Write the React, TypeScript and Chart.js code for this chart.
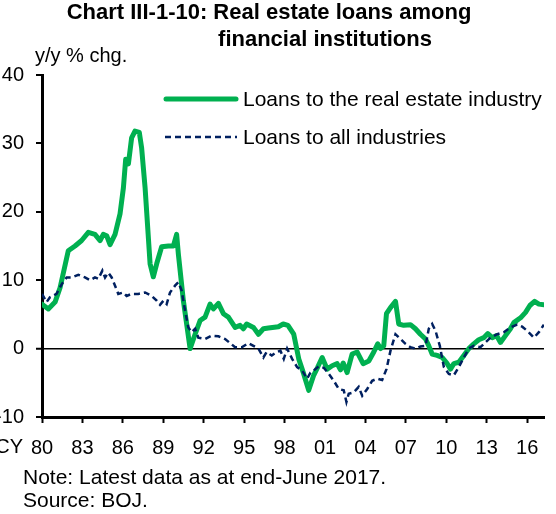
import React, { useEffect, useRef } from "react";
import { Chart, registerables } from "chart.js";

Chart.register(...registerables);

const reYears = [
  1980.0, 1980.47, 1980.97, 1981.34, 1981.95, 1982.45, 1982.94, 1983.44, 1983.93, 1984.31,
  1984.55, 1984.8, 1985.05, 1985.42, 1985.79, 1986.04, 1986.21, 1986.41, 1986.65, 1986.9,
  1987.22, 1987.39, 1987.65, 1988.02, 1988.26, 1988.51, 1988.88, 1989.38, 1989.75, 1989.99,
  1990.12, 1990.49, 1990.99, 1991.36, 1991.73, 1992.1, 1992.47, 1992.72, 1993.09, 1993.46,
  1993.83, 1994.33, 1994.7, 1994.94, 1995.19, 1995.69, 1996.06, 1996.43, 1996.8, 1997.54,
  1997.9, 1998.25, 1998.68, 1999.05, 1999.42, 1999.79, 2000.16, 2000.46, 2000.79, 2001.16,
  2001.53, 2001.9, 2002.15, 2002.35, 2002.64, 2003.01, 2003.39, 2003.83, 2004.25, 2004.62,
  2004.91, 2005.12, 2005.36, 2005.56, 2005.86, 2006.23, 2006.47, 2006.84, 2007.34, 2007.71,
  2008.08, 2008.46, 2008.7, 2008.95, 2009.32, 2009.7, 2010.07, 2010.31, 2010.56, 2010.93,
  2011.3, 2011.67, 2012.04, 2012.41, 2012.78, 2013.08, 2013.41, 2013.73, 2014.02, 2014.39,
  2014.76, 2015.01, 2015.51, 2015.88, 2016.2, 2016.55, 2016.87, 2017.25,
];
const reValues = [
  6.5, 5.8, 6.8, 8.9, 14.3, 15.0, 15.8, 17.0, 16.7, 15.8,
  16.7, 16.5, 15.2, 16.7, 19.7, 23.5, 27.7, 27.0, 30.8, 31.8,
  31.6, 29.4, 23.5, 12.4, 10.5, 12.4, 14.9, 15.0, 15.0, 16.7,
  13.8, 7.0, 0.0, 2.1, 4.1, 4.6, 6.5, 5.8, 6.6, 5.1,
  4.6, 3.1, 3.4, 2.9, 3.6, 3.1, 2.1, 2.9, 3.0, 3.2,
  3.6, 3.4, 2.1, -1.5, -3.7, -6.1, -3.9, -2.7, -1.3, -3.0,
  -2.5, -2.2, -3.1, -2.1, -3.5, -0.8, -0.5, -2.2, -1.8, -0.5,
  0.7, 0.0, 0.4, 5.1, 6.0, 6.9, 3.6, 3.4, 3.5, 2.9,
  2.1, 1.4, 0.4, -0.8, -1.0, -1.3, -2.2, -3.0, -2.2, -2.0,
  -1.0, 0.0, 0.7, 1.3, 1.6, 2.2, 1.6, 1.9, 0.9, 1.9,
  2.9, 3.8, 4.5, 5.3, 6.3, 6.9, 6.5, 6.4,
];

const allYears = [
  1980.0, 1980.34, 1980.59, 1981.08, 1981.46, 1981.83, 1982.2, 1982.69, 1983.19, 1983.56,
  1983.93, 1984.18, 1984.48, 1984.68, 1984.92, 1985.17, 1985.42, 1985.66, 1986.04, 1986.28,
  1986.65, 1987.15, 1987.65, 1988.14, 1988.51, 1988.76, 1989.01, 1989.25, 1989.5, 1989.87,
  1990.12, 1990.36, 1990.62, 1990.86, 1991.11, 1991.36, 1991.6, 1992.1, 1992.59, 1993.09,
  1993.59, 1993.96, 1994.33, 1994.82, 1995.32, 1995.69, 1996.06, 1996.43, 1996.67, 1997.05,
  1997.42, 1997.69, 1997.94, 1998.19, 1998.56, 1998.93, 1999.3, 1999.67, 1999.92, 2000.16,
  2000.53, 2000.91, 2001.28, 2001.65, 2002.02, 2002.39, 2002.59, 2002.76, 2003.13, 2003.5,
  2003.76, 2004.13, 2004.5, 2004.87, 2005.24, 2005.56, 2005.86, 2006.23, 2006.6, 2006.97,
  2007.34, 2007.71, 2008.08, 2008.46, 2008.7, 2008.95, 2009.2, 2009.52, 2009.82, 2010.19,
  2010.56, 2010.93, 2011.3, 2011.67, 2012.04, 2012.53, 2012.9, 2013.28, 2013.78, 2014.27,
  2014.76, 2015.26, 2015.63, 2016.01, 2016.5, 2016.87, 2017.24,
];
const allValues = [
  8.0, 6.8, 7.5, 8.0, 9.4, 10.4, 10.4, 10.8, 10.4, 10.0,
  10.4, 10.2, 11.4, 10.4, 11.1, 10.4, 9.2, 8.0, 8.2, 7.7,
  8.0, 8.0, 8.2, 7.7, 7.0, 6.4, 7.0, 6.5, 8.2, 9.2,
  9.7, 8.5, 5.5, 3.1, 2.4, 2.9, 1.6, 1.4, 1.9, 1.8,
  1.4, 0.8, 0.2, 0.2, 0.8, 0.4, 0.0, -1.3, -0.5, -1.0,
  -0.5, -0.3, -1.5, 0.0, -1.5, -2.7, -3.2, -4.4, -3.5, -3.2,
  -2.6, -2.8, -3.7, -4.7, -5.9, -6.1, -7.8, -6.6, -6.4, -5.6,
  -6.9, -5.9, -4.7, -4.4, -4.6, -3.0, -0.3, 2.1, 1.4, 0.7,
  0.2, 0.0, 0.3, 0.4, 2.9, 3.6, 2.6, 0.4, -2.7, -3.7,
  -3.9, -2.7, -1.3, 0.0, 0.4, 0.2, 0.9, 1.6, 2.1, 2.4,
  3.1, 3.5, 3.2, 2.6, 1.6, 2.4, 3.5,
];

const xTickYears = [1980, 1983, 1986, 1989, 1992, 1995, 1998, 2001, 2004, 2007, 2010, 2013, 2016];
const yTicks = [-10, 0, 10, 20, 30, 40];

const titleLine1 = "Chart III-1-10: Real estate loans among";
const titleLine2 = "financial institutions";
const yUnit = "y/y % chg.";
const seriesNames = ["Loans to the real estate industry", "Loans to all industries"];
const noteLines = ["Note: Latest data as at end-June 2017.", "Source: BOJ."];

const GREEN = "#00B050";
const NAVY = "#002060";
const FONT = "'Liberation Sans', Arial, sans-serif";

export default function App() {
  const ref = useRef<HTMLCanvasElement>(null);

  useEffect(() => {
    const canvas = ref.current!;
    const decor = {
      id: "decor",
      afterDraw(chart: any) {
        const ctx = chart.ctx;
        ctx.save();
        ctx.fillStyle = "#000";
        ctx.textBaseline = "alphabetic";
        ctx.font = `bold 22px ${FONT}`;
        ctx.textAlign = "center";
        ctx.fillText(titleLine1, 269, 19);
        ctx.fillText(titleLine2, 325, 46);
        ctx.font = `20px ${FONT}`;
        ctx.textAlign = "left";
        ctx.fillText(yUnit, 35, 62);
        ctx.textAlign = "right";
        ctx.fillText("CY", 23, 453);
        // legend
        ctx.lineCap = "round";
        ctx.strokeStyle = GREEN;
        ctx.lineWidth = 5;
        ctx.beginPath();
        ctx.moveTo(166, 99);
        ctx.lineTo(236, 99);
        ctx.stroke();
        ctx.lineCap = "butt";
        ctx.strokeStyle = NAVY;
        ctx.lineWidth = 2.5;
        ctx.setLineDash([6, 4]);
        ctx.beginPath();
        ctx.moveTo(165, 137);
        ctx.lineTo(237, 137);
        ctx.stroke();
        ctx.setLineDash([]);
        ctx.font = `21px ${FONT}`;
        ctx.textAlign = "left";
        ctx.fillText(seriesNames[0], 243, 106);
        ctx.fillText(seriesNames[1], 243, 144);
        ctx.fillText(noteLines[0], 23, 484);
        ctx.fillText(noteLines[1], 23, 507);
        ctx.restore();
      },
    };

    const chart = new Chart(canvas, {
      type: "line",
      data: {
        datasets: [
          {
            label: seriesNames[1],
            data: allYears.map((x, i) => ({ x, y: allValues[i] })),
            borderColor: NAVY,
            borderWidth: 2.5,
            borderDash: [6, 4],
            pointRadius: 0,
            fill: false,
            tension: 0,
          },
          {
            label: seriesNames[0],
            data: reYears.map((x, i) => ({ x, y: reValues[i] })),
            borderColor: GREEN,
            borderWidth: 5,
            borderJoinStyle: "round",
            borderCapStyle: "round",
            pointRadius: 0,
            fill: false,
            tension: 0,
          },
        ],
      },
      options: {
        animation: false,
        responsive: false,
        devicePixelRatio: 1,
        layout: { padding: { left: 0, right: 12, top: 75, bottom: 0 } },
        plugins: { legend: { display: false }, tooltip: { enabled: false }, title: { display: false } },
        scales: {
          x: {
            type: "linear",
            min: 1980,
            max: 2017.25,
            afterFit: (s: any) => {
              s.height = 97;
            },
            afterBuildTicks: (s: any) => {
              s.ticks = xTickYears.map((v) => ({ value: v }));
            },
            ticks: {
              color: "#000",
              font: { family: FONT, size: 20 },
              padding: 13,
              maxRotation: 0,
              autoSkip: false,
              callback: (v: any) => String(Number(v) % 100).padStart(2, "0"),
            },
            grid: {
              drawOnChartArea: false,
              drawTicks: true,
              tickLength: 6,
              tickColor: "#000",
              tickWidth: 2,
            },
            border: { display: true, color: "#000", width: 3 },
          },
          y: {
            type: "linear",
            min: -10,
            max: 40,
            afterFit: (s: any) => {
              s.width = 42;
            },
            afterBuildTicks: (s: any) => {
              s.ticks = yTicks.map((v) => ({ value: v }));
            },
            ticks: {
              color: "#000",
              font: { family: FONT, size: 20 },
              padding: 12,
              callback: (v: any) => String(v),
            },
            grid: {
              drawOnChartArea: true,
              drawTicks: true,
              tickLength: 6,
              tickColor: "#000",
              tickWidth: 2,
              color: (c: any) => (c.tick && c.tick.value === 0 ? "#000" : "rgba(0,0,0,0)"),
              lineWidth: (c: any) => (c.tick && c.tick.value === 0 ? 1.5 : 0),
            },
            border: { display: true, color: "#000", width: 3 },
          },
        },
      },
      plugins: [decor],
    });
    return () => chart.destroy();
  }, []);

  return (
    <div style={{ position: "absolute", left: 0, top: 0, width: 556, height: 514, overflow: "hidden", background: "#fff" }}>
      <canvas ref={ref} width={556} height={514} style={{ display: "block", width: 556, height: 514 }} />
    </div>
  );
}
